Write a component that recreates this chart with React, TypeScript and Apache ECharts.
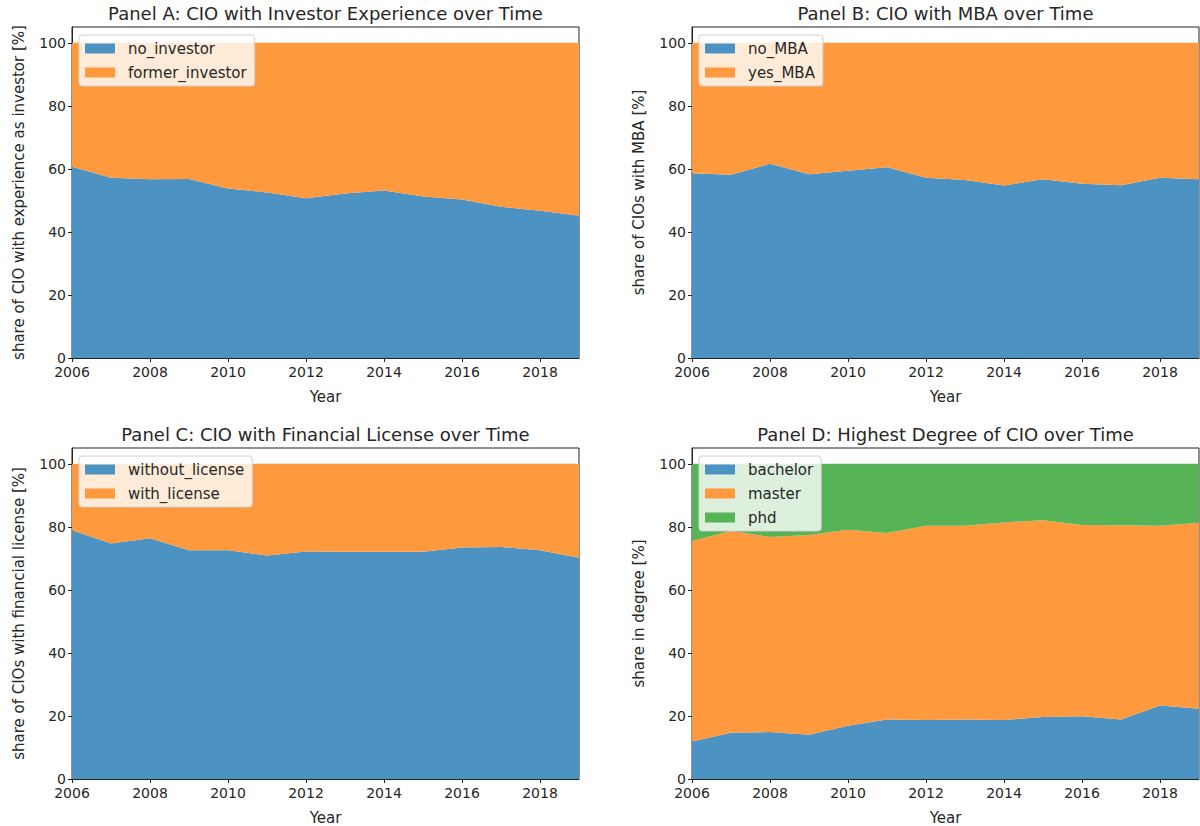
import React, { useEffect, useRef } from "react";
import * as echarts from "echarts";

const years = ["2006", "2007", "2008", "2009", "2010", "2011", "2012", "2013", "2014", "2015", "2016", "2017", "2018", "2019"];
const yTicks = [0, 20, 40, 60, 80, 100];

const noInvestor = [60.7, 57.2, 56.7, 56.8, 53.8, 52.5, 50.7, 52.2, 53.1, 51.2, 50.3, 48.0, 46.7, 45.1];
const formerInvestor = [39.3, 42.8, 43.3, 43.2, 46.2, 47.5, 49.3, 47.8, 46.9, 48.8, 49.7, 52.0, 53.3, 54.9];

const noMBA = [58.6, 58.1, 61.6, 58.3, 59.4, 60.5, 57.2, 56.5, 54.7, 56.7, 55.3, 54.8, 57.2, 56.7];
const yesMBA = [41.4, 41.9, 38.4, 41.7, 40.6, 39.5, 42.8, 43.5, 45.3, 43.3, 44.7, 45.2, 42.8, 43.3];

const withoutLicense = [78.9, 74.7, 76.4, 72.6, 72.6, 70.9, 72.2, 72.1, 72.1, 72.1, 73.4, 73.6, 72.6, 70.2];
const withLicense = [21.1, 25.3, 23.6, 27.4, 27.4, 29.1, 27.8, 27.9, 27.9, 27.9, 26.6, 26.4, 27.4, 29.8];

const bachelor = [11.9, 14.7, 14.9, 14.0, 16.9, 18.9, 18.7, 18.9, 18.7, 19.7, 19.9, 18.9, 23.3, 22.3];
const master = [63.6, 64.0, 61.9, 63.4, 62.2, 59.1, 61.6, 61.4, 62.7, 62.4, 60.7, 61.6, 57.0, 59.0];
const phd = [24.5, 21.3, 23.2, 22.6, 20.9, 22.0, 19.7, 19.7, 18.6, 17.9, 19.4, 19.5, 19.7, 18.7];

const panels = [
  {
    title: "Panel A: CIO with Investor Experience over Time",
    yName: "share of CIO with experience as investor [%]",
    series: [
      { name: "no_investor", data: noInvestor },
      { name: "former_investor", data: formerInvestor },
    ],
  },
  {
    title: "Panel B: CIO with MBA over Time",
    yName: "share of CIOs with MBA [%]",
    series: [
      { name: "no_MBA", data: noMBA },
      { name: "yes_MBA", data: yesMBA },
    ],
  },
  {
    title: "Panel C: CIO with Financial License over Time",
    yName: "share of CIOs with financial license [%]",
    series: [
      { name: "without_license", data: withoutLicense },
      { name: "with_license", data: withLicense },
    ],
  },
  {
    title: "Panel D: Highest Degree of CIO over Time",
    yName: "share in degree [%]",
    series: [
      { name: "bachelor", data: bachelor },
      { name: "master", data: master },
      { name: "phd", data: phd },
    ],
  },
];

const COLORS = ["#4c92c3", "#ff993e", "#56b356"];
const FONT = "DejaVu Sans";
const TXT = "#262626";

const gridPos = [
  { left: 72, top: 27, width: 507, height: 331 },
  { left: 692, top: 27, width: 507, height: 331 },
  { left: 72, top: 448, width: 507, height: 331 },
  { left: 692, top: 448, width: 507, height: 331 },
];

export default function App() {
  const ref = useRef<HTMLDivElement>(null);
  useEffect(() => {
    if (!ref.current) return;
    const chart = echarts.init(ref.current, null, { renderer: "svg" });
    const grid: any[] = [];
    const xAxis: any[] = [];
    const yAxis: any[] = [];
    const series: any[] = [];
    const legend: any[] = [];
    const graphic: any[] = [];
    panels.forEach((p, i) => {
      const g = gridPos[i];
      grid.push({
        ...g,
        show: true,
        borderColor: "#222",
        borderWidth: 1,
        backgroundColor: "#fff",
        containLabel: false,
      });
      xAxis.push({
        type: "category",
        gridIndex: i,
        data: years,
        boundaryGap: false,
        name: "Year",
        nameLocation: "middle",
        nameGap: 31,
        nameTextStyle: { fontFamily: FONT, fontSize: 15, color: TXT },
        splitLine: { show: false },
        axisLine: { show: true, onZero: false, lineStyle: { color: "#222", width: 1 } },
        axisTick: { show: true, length: 4, interval: 1, lineStyle: { color: "#222" } },
        axisLabel: {
          fontFamily: FONT,
          fontSize: 14,
          color: TXT,
          margin: 7,
          interval: 1,
        },
      });
      yAxis.push({
        type: "value",
        gridIndex: i,
        min: 0,
        max: 105,
        name: p.yName,
        nameLocation: "middle",
        nameRotate: 90,
        nameGap: 46,
        nameTextStyle: { fontFamily: FONT, fontSize: 15, color: TXT },
        splitLine: { show: false },
        axisLine: { show: true, lineStyle: { color: "#222", width: 1 } },
        axisTick: { show: true, length: 4, lineStyle: { color: "#222" }, customValues: yTicks },
        axisLabel: { fontFamily: FONT, fontSize: 14, color: TXT, margin: 6, customValues: yTicks },
      });
      p.series.forEach((s, k) => {
        series.push({
          type: "line",
          name: s.name,
          xAxisIndex: i,
          yAxisIndex: i,
          stack: "panel" + i,
          data: s.data,
          showSymbol: false,
          symbol: "none",
          lineStyle: { width: 0 },
          areaStyle: { color: COLORS[k], opacity: 1 },
          itemStyle: { color: COLORS[k] },
          z: 2,
        });
      });
      legend.push({
        data: p.series.map((s) => s.name),
        left: g.left + 7,
        top: g.top + 8,
        orient: "vertical",
        icon: "rect",
        itemWidth: 30,
        itemHeight: 10,
        itemGap: 9,
        padding: [6, 8, 6, 6],
        backgroundColor: "rgba(255,255,255,0.8)",
        borderColor: "#d0d0d0",
        borderWidth: 1,
        borderRadius: 3,
        selectedMode: false,
        textStyle: { fontFamily: FONT, fontSize: 15, color: TXT, padding: [0, 0, 0, 8] },
      });
      graphic.push({
        type: "text",
        x: g.left + g.width / 2,
        y: g.top - 14,
        style: {
          text: p.title,
          fontFamily: FONT,
          fontSize: 18,
          fill: TXT,
          textAlign: "center",
          textVerticalAlign: "middle",
        },
      });
    });
    chart.setOption({
      animation: false,
      backgroundColor: "#fff",
      grid,
      xAxis,
      yAxis,
      series,
      legend,
      graphic,
    });
    return () => chart.dispose();
  }, []);
  return (
    <div
      ref={ref}
      style={{ position: "absolute", left: 0, top: 0, width: 1200, height: 826 }}
    />
  );
}
